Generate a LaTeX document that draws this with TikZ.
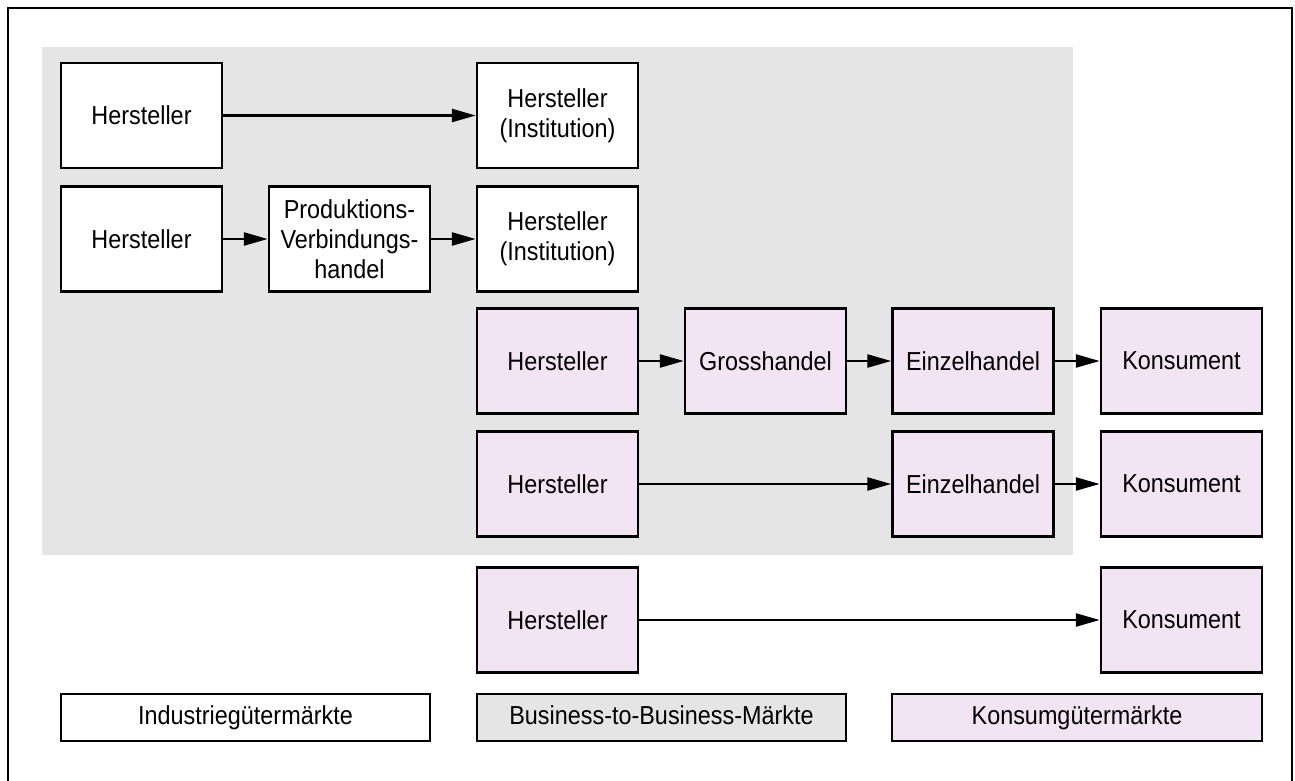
\documentclass[tikz,border=0pt]{standalone}
\usepackage{fontspec}
\setmainfont[FakeStretch=0.9]{Liberation Sans}
\usetikzlibrary{arrows.meta}
\definecolor{bbgray}{RGB}{229,229,229}
\definecolor{konsum}{RGB}{243,228,243}
\begin{document}
\begin{tikzpicture}[x=1pt,y=-1pt,
  every node/.style={font=\fontsize{26}{30}\selectfont},
  box/.style={draw,line width=2.5pt,minimum width=161pt,minimum height=105pt,
              inner sep=2pt,align=center,fill=white},
  kbox/.style={box,fill=konsum},
  legend/.style={draw,line width=2.5pt,minimum height=47pt,inner sep=2pt,align=center,
                 text height=19pt,text depth=5pt},
  flow/.style={line width=2.5pt,-{Triangle[length=24pt,width=13pt]}}]
  \useasboundingbox (0,0) rectangle (1295,780);
  % outer frame (open at the bottom edge of the page)
  \draw[line width=2.5pt] (8,790) -- (8,8) -- (1292,8) -- (1292,790);
  % business-to-business area
  \fill[bbgray] (42,47) rectangle (1073,555);

  % row 1
  \node[box] (h1) at (141.5,115.5) {Hersteller};
  \node[box] (i1) at (557.5,115.5) {Hersteller\\(Institution)};
  % row 2
  \node[box] (h2) at (141.5,239) {Hersteller};
  \node[box] (p2) at (349.5,239) {Produktions-\\Verbindungs-\\handel};
  \node[box] (i2) at (557.5,239) {Hersteller\\(Institution)};
  % row 3
  \node[kbox] (h3) at (557.5,361) {Hersteller};
  \node[kbox] (g3) at (765.5,361) {Grosshandel};
  \node[kbox] (e3) at (973,361) {Einzelhandel};
  \node[kbox] (k3) at (1181.5,361) {Konsument};
  % row 4
  \node[kbox] (h4) at (557.5,484) {Hersteller};
  \node[kbox] (e4) at (973,484) {Einzelhandel};
  \node[kbox] (k4) at (1181.5,484) {Konsument};
  % row 5
  \node[kbox] (h5) at (557.5,620) {Hersteller};
  \node[kbox] (k5) at (1181.5,620) {Konsument};

  % connectors
  \draw[flow] (h1) -- (i1);
  \draw[flow] (h2) -- (p2);
  \draw[flow] (p2) -- (i2);
  \draw[flow] (h3) -- (g3);
  \draw[flow] (g3) -- (e3);
  \draw[flow] (e3) -- (k3);
  \draw[flow] (h4) -- (e4);
  \draw[flow] (e4) -- (k4);
  \draw[flow] (h5) -- (k5);

  % legend
  \node[legend,fill=white,minimum width=369pt] (l1) at (245.5,717.5) {Industriegütermärkte};
  \node[legend,fill=bbgray,minimum width=369pt] (l2) at (661.5,717.5) {Business-to-Business-Märkte};
  \node[legend,fill=konsum,minimum width=370pt] (l3) at (1077,717.5) {Konsumgütermärkte};
\end{tikzpicture}
\end{document}
